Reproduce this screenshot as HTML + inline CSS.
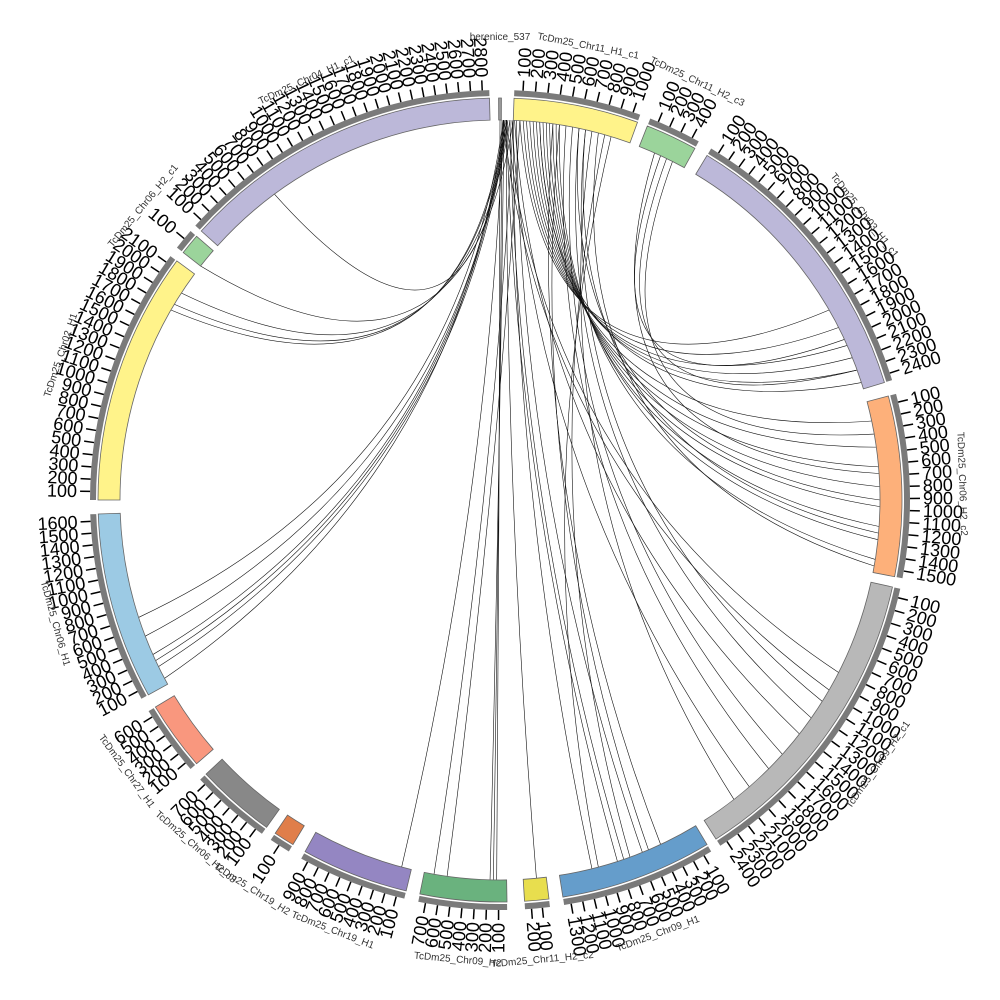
<!DOCTYPE html>
<html><head><meta charset="utf-8"><style>
html,body{margin:0;padding:0;background:#fff;}
svg{display:block;font-family:"Liberation Sans",sans-serif;}
</style></head><body>
<svg id="s" width="1000" height="1000" viewBox="0 0 1000 1000" xmlns="http://www.w3.org/2000/svg">
<rect width="1000" height="1000" fill="#fff"/>
<g id="links" fill="none" stroke="#111" stroke-width="0.6"></g>
<g id="segs"></g>
<g id="ticks"></g>
<g id="labels" font-size="10" fill="#333"></g>
</svg>
<script>
var cx=500,cy=500,R0=380,R1=402;
var NS="http://www.w3.org/2000/svg";
function P(a,r){var t=a*Math.PI/180;return [cx+r*Math.sin(t),cy-r*Math.cos(t)];}
function el(tag,attrs,parent,txt){var e=document.createElementNS(NS,tag);for(var k in attrs)e.setAttribute(k,attrs[k]);if(txt!==undefined)e.textContent=txt;parent.appendChild(e);return e;}
var segs=[
["berenice_537",-0.2,0.2,"#999",0],
["TcDm25_Chr11_H1_c1",2,20,"#fff38a",10],
["TcDm25_Chr11_H2_c3",21.5,29,"#9bd49b",4],
["TcDm25_Chr03_H1_c1",31,73,"#bcb8d9",24],
["TcDm25_Chr06_H2_c2",75,101,"#fdb07a",15],
["TcDm25_Chr09_H2_c1",102.5,147.5,"#b8b8b8",24],
["TcDm25_Chr09_H1",149,171,"#659dcb",13],
["TcDm25_Chr11_H2_c2",173,176.5,"#e8de4e",2],
["TcDm25_Chr09_H2",179,191.5,"#6ab27e",7],
["TcDm25_Chr19_H1",193.5,209,"#9486c2",9],
["TcDm25_Chr19_H2",211,214,"#e07e4a",1],
["TcDm25_Chr06_H2_c3",215.5,227,"#888888",7],
["TcDm25_Chr27_H1",229,239,"#f9977e",6],
["TcDm25_Chr06_H1",241,268,"#9ccae4",16],
["TcDm25_Chr02_H1",270,306.5,"#fff38a",21],
["TcDm25_Chr06_H2_c1",308,311,"#9bd49b",1],
["TcDm25_Chr04_H1_c1",312,358.5,"#bcb8d9",28]
];
var gs=document.getElementById("segs"),gt=document.getElementById("ticks"),gl=document.getElementById("labels");
segs.forEach(function(s){
 var a0=s[1],a1=s[2];
 var p0=P(a0,R0),p1=P(a1,R0),p2=P(a1,R1),p3=P(a0,R1);
 var lg=(a1-a0)>180?1:0;
 var d="M"+p0+" A"+R0+","+R0+" 0 "+lg+" 1 "+p1+" L"+p2+" A"+R1+","+R1+" 0 "+lg+" 0 "+p3+"Z";
 el("path",{d:d,fill:s[3],stroke:"#666","stroke-width":0.8},gs);
 if(s[4]>0){
  var q0=P(a0,R1+2),q1=P(a1,R1+2),q2=P(a1,R1+8),q3=P(a0,R1+8);
  el("path",{d:"M"+q0+" A"+(R1+2)+","+(R1+2)+" 0 0 1 "+q1+" L"+q2+" A"+(R1+8)+","+(R1+8)+" 0 0 0 "+q3+"Z",fill:"#7a7a7a"},gt);
  var n=s[4],step=(a1-a0)/(n+0.3);
  for(var i=1;i<=n;i++){
   var a=a0+step*(i-0.3);
   var t0=P(a,R1+8),t1=P(a,R1+18);
   el("line",{x1:t0[0],y1:t0[1],x2:t1[0],y2:t1[1],stroke:"#000","stroke-width":1.5},gt);
   var tp=P(a,R1+21),lab=String(i*100);
   var an=((a%360)+360)%360;
   if(an<=180){
    el("text",{x:tp[0],y:tp[1],"font-size":18,"dominant-baseline":"central",transform:"rotate("+(a-90)+" "+tp[0]+" "+tp[1]+")"},gt,lab);
   }else{
    el("text",{x:tp[0],y:tp[1],"font-size":18,"text-anchor":"end","dominant-baseline":"central",transform:"rotate("+(a+90)+" "+tp[0]+" "+tp[1]+")"},gt,lab);
   }
  }
 }
 var m=(a0+a1)/2, rp=(s[4]>0)?462:408;
 if(s[0]=="berenice_537"){el("text",{x:500,y:40,"text-anchor":"middle","font-size":10},gl,s[0]);return;}
 var lp=P(m,rp);var an2=((m%360)+360)%360;
 var rot=(an2>90&&an2<270)?(m-180):m;
 el("text",{x:lp[0],y:lp[1],"text-anchor":"middle","dominant-baseline":"central",transform:"rotate("+rot+" "+lp[0]+" "+lp[1]+")"},gl,s[0]);
});
var gk=document.getElementById("links");
var L=[
[1,323.6],[2,308],[1.5,303],[1,301],[0.5,252],[1,249],[0.8,246],[1.2,244],[0.6,242],
[0,180.5],[0.3,181],[0.6,181.5],[1,174.5],[0.5,195],[1,162],[1.5,161],[2,166],[2.5,158],[1.8,139],[2.2,128],
[0.5,120],[1,117],[3,60],[3.5,63],[4,66],[4.5,68],[5,70],[6,72],[5.5,78],[6,82],[6.5,85],[7,88],[7.5,91],[8,94],[8.5,96],[9,99],
[10,135],[11,132],[12,125],[13,122],[14,142],[8,155],[9,157],[25,65],[26,70],[27,80],[24,86],[12,90],[13,95],[15,100],[16,160],[17,165],
[1,245],[2,190],[3,188],[0.8,300]
];
L.forEach(function(l){
 var a=P(l[0],R0),b=P(l[1],R0);
 var c=[cx+(a[0]+b[0]-2*cx)*0.12,cy+(a[1]+b[1]-2*cy)*0.12];
 el("path",{d:"M"+a+" Q"+c+" "+b},gk);
});
</script>
</body></html>
